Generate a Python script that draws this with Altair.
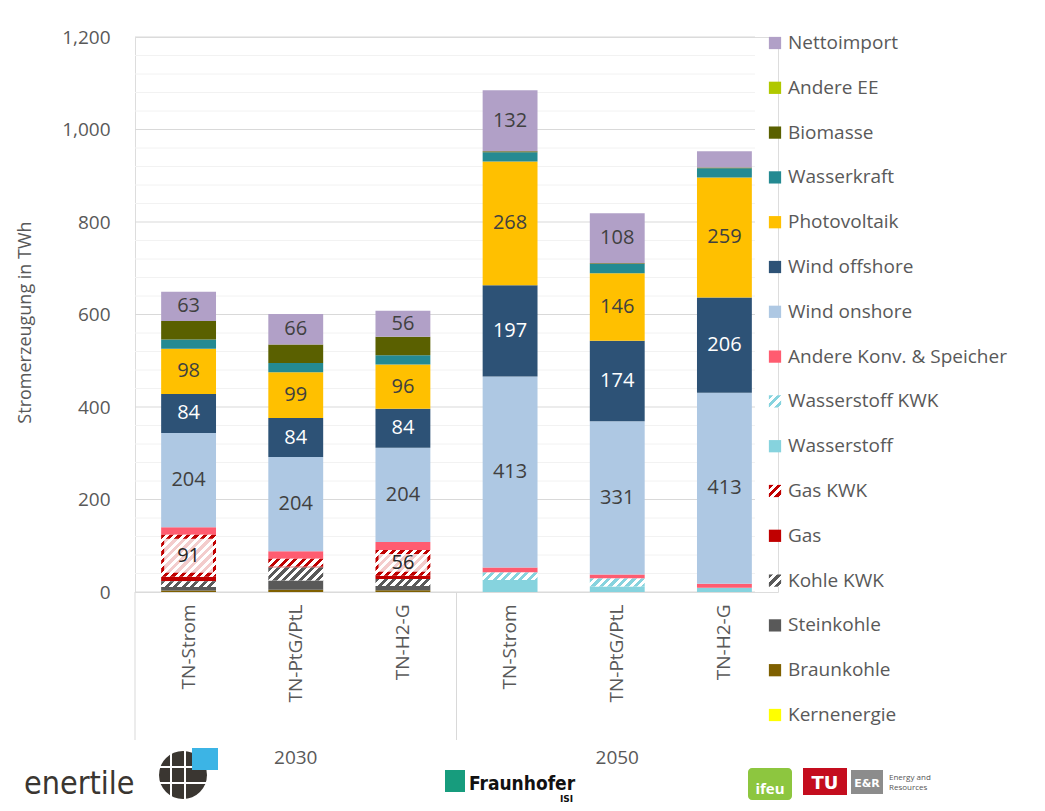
import altair as alt
import pandas as pd

# ---------------- data ----------------
years = ["2030", "2030", "2030", "2050", "2050", "2050"]
scenarios = ["TN-Strom", "TN-PtG/PtL", "TN-H2-G", "TN-Strom", "TN-PtG/PtL", "TN-H2-G"]
group_names = ["2030", "2050"]
group_index = [0, 1]

kernenergie = [0, 0, 0, 0, 0, 0]
braunkohle = [3, 5, 4, 0, 0, 0]
steinkohle = [8, 20, 9, 0, 0, 0]
kohle_kwk = [12, 28, 15, 0, 0, 0]
gas = [10, 2, 7, 0, 0, 0]
gas_kwk = [91, 17, 56, 0, 0, 0]
wasserstoff = [0, 0, 0, 26, 12, 9]
wasserstoff_kwk = [0, 0, 0, 16, 17, 0]
andere_konv = [16, 16, 17, 11, 9, 9]
wind_onshore = [204, 204, 204, 413, 331, 413]
wind_offshore = [84, 84, 84, 197, 174, 206]
photovoltaik = [98, 99, 96, 268, 146, 259]
wasserkraft = [20, 20, 20, 20, 20, 20]
biomasse = [40, 40, 40, 2, 2, 2]
andere_ee = [0, 0, 0, 0, 0, 0]
nettoimport = [63, 66, 56, 132, 108, 35]

major_ticks = [0, 200, 400, 600, 800, 1000, 1200]
minor_ticks = [40, 80, 120, 160, 240, 280, 320, 360, 440, 480, 520, 560,
               640, 680, 720, 760, 840, 880, 920, 960, 1040, 1080, 1120, 1160]

# stack order: bottom -> top
series = [
    ("Kernenergie", kernenergie),
    ("Braunkohle", braunkohle),
    ("Steinkohle", steinkohle),
    ("Kohle KWK", kohle_kwk),
    ("Gas", gas),
    ("Gas KWK", gas_kwk),
    ("Wasserstoff", wasserstoff),
    ("Wasserstoff KWK", wasserstoff_kwk),
    ("Andere Konv. & Speicher", andere_konv),
    ("Wind onshore", wind_onshore),
    ("Wind offshore", wind_offshore),
    ("Photovoltaik", photovoltaik),
    ("Wasserkraft", wasserkraft),
    ("Biomasse", biomasse),
    ("Andere EE", andere_ee),
    ("Nettoimport", nettoimport),
]

# ---------------- styles ----------------
colors = {
    "Kernenergie": "#FFFF00",
    "Braunkohle": "#7F6000",
    "Steinkohle": "#595959",
    "Kohle KWK": "#595959",
    "Gas": "#C00000",
    "Gas KWK": "#C00000",
    "Wasserstoff": "#86D3DE",
    "Wasserstoff KWK": "#86D3DE",
    "Andere Konv. & Speicher": "#FF5C70",
    "Wind onshore": "#AEC8E3",
    "Wind offshore": "#2D5276",
    "Photovoltaik": "#FFC000",
    "Wasserkraft": "#248A92",
    "Biomasse": "#5A6000",
    "Andere EE": "#B0C800",
    "Nettoimport": "#B1A0C7",
}
hatched = {"Kohle KWK", "Gas KWK", "Wasserstoff KWK"}
label_colors = {"Wind offshore": "#FFFFFF", "Gas KWK": "#262626"}
DEFAULT_LABEL = "#404040"
FONT = "Open Sans"
GREY = "#595959"

keys = [f"{y}|{s}" for y, s in zip(years, scenarios)]
rows = []
for k, (name, vals) in enumerate(series):
    for j, v in enumerate(vals):
        rows.append({
            "key": keys[j], "series": name, "ord": k, "value": v,
            "color": colors[name],
            "hc": colors[name] if name in hatched else "",
            "hatch": 1 if name in hatched else 0,
            "tc": label_colors.get(name, DEFAULT_LABEL),
        })
df = pd.DataFrame(rows)

legend_order = [n for n, _ in series][::-1]
df_leg = pd.DataFrame({
    "name": legend_order,
    "color": [colors[n] for n in legend_order],
    "hc": [colors[n] if n in hatched else "" for n in legend_order],
    "hatch": [1 if n in hatched else 0 for n in legend_order],
})

# ---------------- layout ----------------
W, H = 643, 555
PAD = {"left": 127, "top": 29, "right": 259, "bottom": 211}
P_IN, P_OUT = 0.488, 0.244
BW = (W / 6) * (1 - P_IN)
PX_PER_UNIT = H / 1200

# diagonal hatch as a striped linear gradient ("/" direction, constant pixel period)
N_STR, PERIOD, FRAC = 16, 8.5, 0.5
L = N_STR * PERIOD
stops = []
for i in range(N_STR):
    a, b, c = i / N_STR, (i + FRAC) / N_STR, (i + 1) / N_STR
    stops += [f"{{offset:{a:.5f},color:datum.hc}}", f"{{offset:{b:.5f},color:datum.hc}}",
              f"{{offset:{b:.5f},color:'#ffffff'}}", f"{{offset:{c:.5f},color:'#ffffff'}}"]
den = "(datum.gw*datum.gw+datum.gh*datum.gh)"
hatch_expr = ("{gradient:'linear',x1:0,y1:0,"
              f"x2:{L}*datum.gw/{den},y2:{L}*datum.gh/{den},"
              "stops:[" + ",".join(stops) + "]}")

xscale = alt.Scale(domain=keys, paddingInner=P_IN, paddingOuter=P_OUT)
xaxis = alt.Axis(title=None, labelExpr="split(datum.label, '|')[1]", labelAngle=270,
                 labelFontSize=19, labelColor=GREY, labelFont=FONT, labelPadding=12,
                 ticks=False, tickSize=0, domain=False, grid=False, labelOverlap=False)
yscale = alt.Scale(domain=[0, 1200], nice=False, zero=True)
yaxis = alt.Axis(title="Stromerzeugung in TWh", values=major_ticks, format=",d",
                 labelFontSize=19, labelColor=GREY, labelFont=FONT, labelPadding=25,
                 ticks=False, tickSize=0, domain=False, grid=False,
                 titleFontSize=18, titleFont=FONT, titleColor=GREY, titleFontWeight="normal",
                 titleX=-110, titleY=285, titleAngle=270, titleAlign="center",
                 titleBaseline="middle")

X = alt.X("key:N", sort=keys, scale=xscale, axis=xaxis)

def Y(field):
    return alt.Y(field, scale=yscale, axis=yaxis)

GRID_W = 620
grid_minor = alt.Chart(pd.DataFrame({"v": minor_ticks})).mark_rule(
    color="#F2F2F2", strokeWidth=1).encode(y=Y("v:Q"), x=alt.value(0), x2=alt.value(GRID_W))
grid_major = alt.Chart(pd.DataFrame({"v": major_ticks})).mark_rule(
    color="#D9D9D9", strokeWidth=1).encode(y=Y("v:Q"), x=alt.value(0), x2=alt.value(GRID_W))

base = alt.Chart(df).transform_stack(
    as_=["y0", "y1"], stack="value", groupby=["key"],
    sort=[alt.SortField("ord", order="ascending")])

bars = base.transform_filter("datum.hatch == 0 && datum.value > 0").mark_bar().encode(
    x=X, y=Y("y0:Q"), y2="y1:Q", fill=alt.Fill("color:N", scale=None))

bars_h = base.transform_filter("datum.hatch == 1 && datum.value > 0").transform_calculate(
    gw=f"{BW}", gh=f"(datum.y1 - datum.y0) * {PX_PER_UNIT}"
).mark_bar(fill=alt.ExprRef(expr=hatch_expr)).encode(x=X, y=Y("y0:Q"), y2="y1:Q")

label_box = base.transform_filter("datum.hatch == 1 && datum.value >= 50").mark_bar(
    fill="#FFFFFF", fillOpacity=0.8, width=alt.RelativeBandSize(0.89),
    yOffset=-4, y2Offset=4).encode(x=X, y=Y("y0:Q"), y2="y1:Q")

labels = base.transform_filter("datum.value >= 50").transform_calculate(
    mid="(datum.y0 + datum.y1) / 2"
).mark_text(font=FONT, fontSize=20, baseline="middle", align="center").encode(
    x=X, y=Y("mid:Q"), text=alt.Text("value:Q", format="d"),
    color=alt.Color("tc:N", scale=None))

main = alt.layer(grid_minor, grid_major, bars, bars_h, label_box, labels)

# group separators and group labels (2030 / 2050)
df_g = pd.DataFrame({"g": group_names, "i": group_index})
gscale = alt.Scale(domain=[0, 2], nice=False, zero=False)
g_rules = alt.Chart(df_g).mark_rule(color="#D9D9D9", strokeWidth=1).encode(
    x=alt.X("i:Q", scale=gscale, axis=None), y=alt.value(H), y2=alt.value(H + 148))
g_text = alt.Chart(df_g).transform_calculate(c="datum.i + 0.5").mark_text(
    font=FONT, fontSize=19, color=GREY, baseline="middle").encode(
    x=alt.X("c:Q", scale=gscale, axis=None), y=alt.value(H + 166), text="g:N")
groups = alt.layer(g_rules, g_text)

# custom legend
leg_y = alt.Y("name:N", sort=legend_order, scale=alt.Scale(range=[6, 678], padding=0), axis=None)
leg_sq = alt.Chart(df_leg).transform_filter("datum.hatch == 0").mark_square(
    size=150, opacity=1).encode(x=alt.value(640), y=leg_y, fill=alt.Fill("color:N", scale=None))
leg_hq = alt.Chart(df_leg).transform_filter("datum.hatch == 1").transform_calculate(
    gw="12.2", gh="12.2").mark_square(size=150, opacity=1, fill=alt.ExprRef(expr=hatch_expr)).encode(
    x=alt.value(640), y=leg_y)
leg_tx = alt.Chart(df_leg).mark_text(font=FONT, fontSize=19, color=GREY, align="left",
                                      baseline="middle").encode(
    x=alt.value(653), y=leg_y, text="name:N")
legend = alt.layer(leg_sq, leg_hq, leg_tx)

# logos (decoration, approximated with text and shapes)
one = pd.DataFrame({"t": [""]})

def deco_text(txt, x, y, size, color, font=FONT, weight="normal", align="left"):
    return alt.Chart(pd.DataFrame({"t": [txt]})).mark_text(
        font=font, fontSize=size, color=color, fontWeight=weight, align=align,
        baseline="alphabetic").encode(x=alt.value(x), y=alt.value(y), text="t:N")

def deco_rect(x, x2, y, y2, color, radius=0):
    return alt.Chart(one).mark_rect(color=color, cornerRadius=radius).encode(
        x=alt.value(x), x2=alt.value(x2), y=alt.value(y), y2=alt.value(y2))

def deco_line(x, x2, y, y2, color, width):
    return alt.Chart(one).mark_rule(color=color, strokeWidth=width).encode(
        x=alt.value(x), x2=alt.value(x2), y=alt.value(y), y2=alt.value(y2))

decos = [
    deco_text("enertile", -111, 757, 32, "#3A3631", font="DejaVu Sans Condensed"),
    alt.Chart(one).mark_circle(size=2300, color="#3A3631", opacity=1).encode(
        x=alt.value(48), y=alt.value(738)),
    deco_line(36, 36, 712, 764, "#FFFFFF", 2),
    deco_line(50, 50, 712, 764, "#FFFFFF", 2),
    deco_line(21, 75, 730, 730, "#FFFFFF", 2),
    deco_line(21, 75, 746, 746, "#FFFFFF", 2),
    deco_rect(57, 83, 711, 733, "#3CB4E5"),
    deco_rect(310, 330, 733, 755, "#179C7D"),
    deco_text("Fraunhofer", 334, 753, 19, "#111111", font="DejaVu Sans Condensed", weight="bold"),
    deco_text("ISI", 425, 765, 9, "#111111", font="DejaVu Sans", weight="bold"),
    deco_rect(613, 657, 731, 763, "#8DC63F", radius=4),
    deco_text("ifeu", 635, 757, 15, "#FFFFFF", weight="bold", align="center"),
    deco_rect(668, 712, 731, 758, "#C40D1E"),
    deco_text("TU", 690, 752, 18, "#FFFFFF", font="DejaVu Sans", weight="bold", align="center"),
    deco_rect(716, 748, 733, 757, "#8C8C8C"),
    deco_text("E&R", 732, 750, 11, "#FFFFFF", font="DejaVu Sans", weight="bold", align="center"),
    deco_text("Energy and", 754, 743, 8, "#555555"),
    deco_text("Resources", 754, 753, 8, "#555555"),
]

chart = alt.layer(main, groups, legend, *decos).resolve_scale(
    x="independent", y="independent"
).properties(
    width=W, height=H,
    autosize=alt.AutoSizeParams(type="none"),
    padding=PAD,
).configure_view(stroke="transparent").configure(font=FONT)

chart.save("out.html", embed_options={"renderer": "svg", "actions": False})
